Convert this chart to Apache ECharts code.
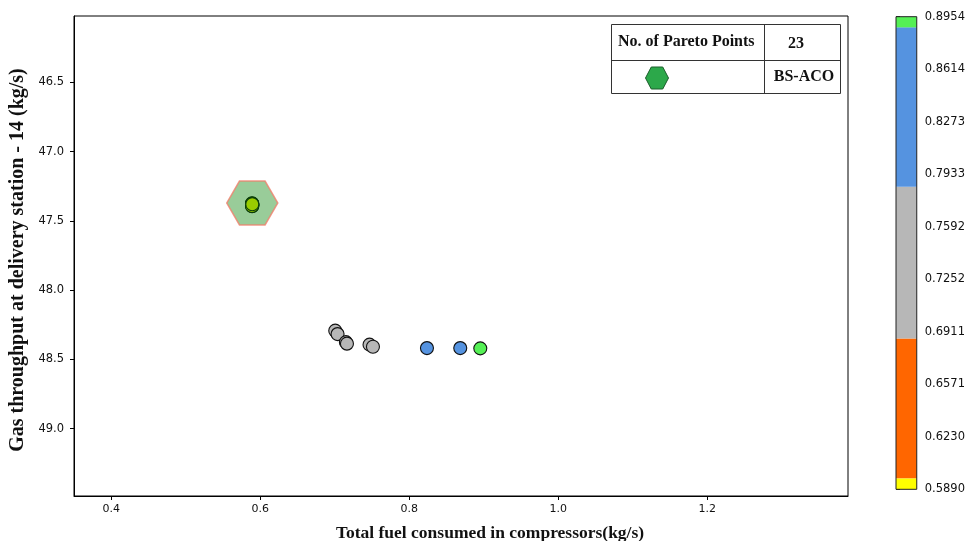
<!DOCTYPE html>
<html><head><meta charset="utf-8">
<script src="https://cdn.jsdelivr.net/npm/echarts@6/dist/echarts.min.js"></script>
<style>html,body{margin:0;padding:0;background:#fff}#c{width:968px;height:541px}</style>
</head><body><div id="c"></div>
<script>
// ---- data ----
const fuelX = [0.5890,0.5890,0.5891,0.5891,0.5892,0.5892,0.5893,0.5893,0.5890,0.5894,0.5891,0.5892,0.5890,0.5893,
               0.7007,0.7038,0.7150,0.7164,0.7467,0.7513,0.8238,0.8685,0.8954];
const throughputY = [47.372,47.375,47.378,47.380,47.382,47.384,47.386,47.388,47.390,47.392,47.376,47.381,47.393,47.379,
                     48.292,48.317,48.375,48.386,48.393,48.408,48.418,48.418,48.420];
const xTicks = [0.4,0.6,0.8,1.0,1.2];
const yTicks = [46.5,47.0,47.5,48.0,48.5,49.0];
const cbTicks = [0.5890,0.6230,0.6571,0.6911,0.7252,0.7592,0.7933,0.8273,0.8614,0.8954];
const cbBounds = [0.589,0.5961,0.6868,0.7852,0.8885,0.8954];
const cbColors = ['#ffff00','#ff6600','#b7b7b7','#5593e0','#55f055'];
const hexCenter = [0.5893, 47.37];
const paretoCount = 23;
const algoName = 'BS-ACO';
const xTitle = 'Total fuel consumed in compressors(kg/s)';
const yTitle = 'Gas throughput at delivery station - 14 (kg/s)';

// ---- build ----
const points = fuelX.map((x,i)=>[x, throughputY[i]]);
const segs = cbColors.map((c,i)=>[cbBounds[i], cbBounds[i+1], i]);
const pieces = cbColors.map((c,i)=>{
  const p = {gte: cbBounds[i], color: c};
  if (i < cbColors.length-1) p.lt = cbBounds[i+1]; else p.lte = cbBounds[i+1] + 1e-9;
  return p;
});
const hexPath = 'path://M0,866L500,0L1500,0L2000,866L1500,1732L500,1732Z';
const serif = '"Liberation Serif", "DejaVu Serif", serif';
const sans = '"DejaVu Sans", sans-serif';

const chart = echarts.init(document.getElementById('c'), null, {renderer:'canvas'});
chart.setOption({
  animation: false,
  backgroundColor: '#fff',
  grid: [
    {left:74, top:16, width:774, height:480, show:true, borderColor:'#000', borderWidth:1, containLabel:false},
    {left:896, top:16.7, width:23, height:472.6, show:true, borderColor:'#222', borderWidth:1, containLabel:false, z:5}
  ],
  xAxis: [
    {type:'value', gridIndex:0, min:0.35, max:1.389,
     axisLine:{show:true, onZero:false, lineStyle:{color:'#000'}},
     axisTick:{show:true, length:4, lineStyle:{color:'#000'}, customValues:xTicks},
     axisLabel:{fontFamily:sans, fontSize:11, color:'#111', margin:8, customValues:xTicks, formatter:v=>v.toFixed(1)},
     splitLine:{show:false}},
    {type:'value', gridIndex:1, min:0, max:1, show:false}
  ],
  yAxis: [
    {type:'value', gridIndex:0, min:46.02, max:49.486, inverse:true,
     axisLine:{show:true, onZero:false, lineStyle:{color:'#000'}},
     axisTick:{show:true, length:4, lineStyle:{color:'#000'}, customValues:yTicks},
     axisLabel:{fontFamily:sans, fontSize:11.5, color:'#111', margin:10, customValues:yTicks, formatter:v=>v.toFixed(1)},
     splitLine:{show:false}},
    {type:'value', gridIndex:1, min:0.589, max:0.8954, position:'right',
     axisLine:{show:false},
     axisTick:{show:true, length:4, lineStyle:{color:'#222'}, customValues:cbTicks},
     axisLabel:{fontFamily:sans, fontSize:11.5, color:'#111', margin:8, customValues:cbTicks, formatter:v=>v.toFixed(4)},
     splitLine:{show:false}}
  ],
  visualMap: [{type:'piecewise', show:false, seriesIndex:0, dimension:0, pieces:pieces}],
  series: [
    {type:'scatter', xAxisIndex:0, yAxisIndex:0, data:points, symbol:'circle', symbolSize:13,
     itemStyle:{borderColor:'#111', borderWidth:1.1, opacity:1}, z:2, silent:true},
    {type:'scatter', xAxisIndex:0, yAxisIndex:0, data:[hexCenter], symbol:hexPath, symbolSize:[51,44],
     itemStyle:{color:'rgba(0,128,0,0.5)', borderColor:'#ef7f6c', borderWidth:1.5}, z:3, silent:true},
    {type:'custom', xAxisIndex:1, yAxisIndex:1, data:segs, silent:true, z:2,
     renderItem:(params, api)=>{
       const p0 = api.coord([0, api.value(0)]);
       const p1 = api.coord([1, api.value(1)]);
       return {type:'rect', shape:{x:p0[0], y:p1[1], width:p1[0]-p0[0], height:p0[1]-p1[1]},
               style:{fill: cbColors[api.value(2)]}};
     }}
  ],
  graphic: [
    {type:'rect', shape:{x:611.5, y:24.5, width:229, height:69}, style:{fill:'#fff', stroke:'#333', lineWidth:1}, z:10},
    {type:'line', shape:{x1:611.5, y1:60.5, x2:840.5, y2:60.5}, style:{stroke:'#333', lineWidth:1}, z:11},
    {type:'line', shape:{x1:764.5, y1:24.5, x2:764.5, y2:93.5}, style:{stroke:'#333', lineWidth:1}, z:11},
    {type:'text', x:618, y:42, z:12, style:{text:'No. of Pareto Points', font:'bold 16px '+serif, fill:'#111', textVerticalAlign:'middle'}},
    {type:'text', x:796, y:44, z:12, style:{text:String(paretoCount), font:'bold 16px '+serif, fill:'#111', textAlign:'center', textVerticalAlign:'middle'}},
    {type:'text', x:804, y:77, z:12, style:{text:algoName, font:'bold 16px '+serif, fill:'#111', textAlign:'center', textVerticalAlign:'middle'}},
    {type:'polygon', z:12, shape:{points:[[645.5,78],[651.25,67],[662.75,67],[668.5,78],[662.75,89],[651.25,89]]},
     style:{fill:'#2ca84a', stroke:'#1d5e2c', lineWidth:1}},
    {type:'text', x:490, y:533, z:12, style:{text:xTitle, font:'bold 17.5px '+serif, fill:'#111', textAlign:'center', textVerticalAlign:'middle'}},
    {type:'text', x:18, y:260, rotation:Math.PI/2, z:12, style:{text:yTitle, font:'bold 20px '+serif, fill:'#111', textAlign:'center', textVerticalAlign:'middle'}}
  ]
});
</script>
</body></html>
